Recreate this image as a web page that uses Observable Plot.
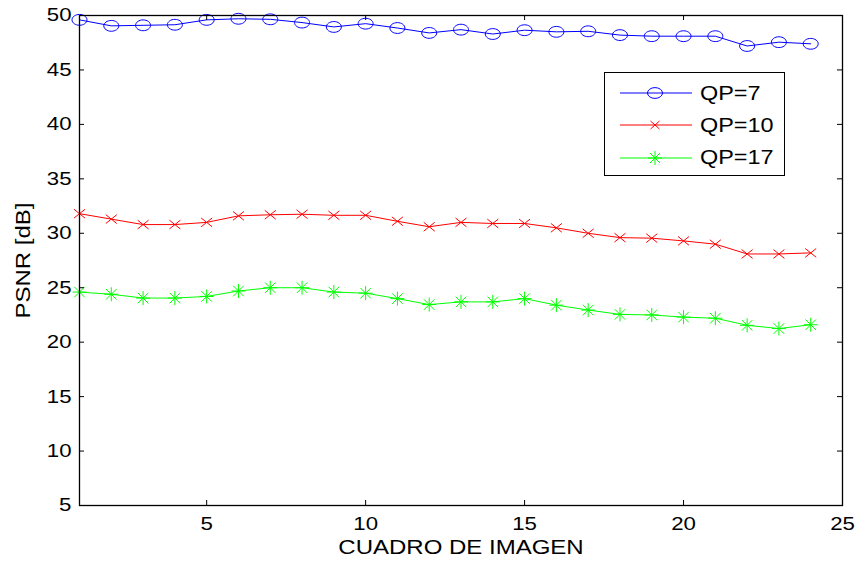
<!DOCTYPE html>
<html>
<head>
<meta charset="utf-8">
<script src="https://cdn.jsdelivr.net/npm/d3@7"></script>
<script src="https://cdn.jsdelivr.net/npm/@observablehq/plot@0.6"></script>
<style>
  html, body { margin: 0; padding: 0; background: #fff; }
  #wrap { position: relative; width: 857px; height: 561px; font-family: "Liberation Sans", Arial, sans-serif; }
  #legend { position: absolute; left: 604px; top: 72px; width: 179px; height: 102px; border: 1px solid #000; background: #fff; }
  .row { position: absolute; left: 0; height: 24px; display: flex; align-items: center; }
  .row span { font-size: 19.5px; color: #000; margin-left: 8px; display: inline-block; transform: scaleX(1.2); transform-origin: left center; }
</style>
</head>
<body>
<div id="wrap">
  <div id="chart"></div>
  <div id="legend"></div>
</div>
<script>
const frames = d3.range(1, 25);
const qp7  = [49.6, 49.05, 49.1, 49.15, 49.6, 49.7, 49.65, 49.35, 48.95, 49.25, 48.85, 48.4, 48.7, 48.3, 48.65, 48.5, 48.55, 48.2, 48.1, 48.1, 48.1, 47.2, 47.55, 47.4];
const qp10 = [31.8, 31.3, 30.8, 30.8, 31.0, 31.6, 31.7, 31.75, 31.65, 31.65, 31.1, 30.6, 31.0, 30.9, 30.9, 30.5, 30.0, 29.6, 29.55, 29.3, 29.0, 28.1, 28.1, 28.2];
const qp17 = [24.6, 24.4, 24.05, 24.05, 24.2, 24.7, 25.0, 25.0, 24.6, 24.5, 24.0, 23.45, 23.7, 23.7, 24.0, 23.4, 22.95, 22.55, 22.5, 22.3, 22.2, 21.55, 21.25, 21.6];
const seriesNames = ["QP=7", "QP=10", "QP=17"];
const seriesColors = ["#0000ff", "#ff0000", "#00ff00"];
const xTicks = [5, 10, 15, 20, 25];
const yTicks = [5, 10, 15, 20, 25, 30, 35, 40, 45, 50];

// MATLAB-like marker symbols
const ellipseSym = { draw(ctx, size) {
  const r = Math.sqrt(size / Math.PI), rx = r * 1.25, ry = r * 0.9, k = 0.5523;
  ctx.moveTo(rx, 0);
  ctx.bezierCurveTo(rx, ry * k, rx * k, ry, 0, ry);
  ctx.bezierCurveTo(-rx * k, ry, -rx, ry * k, -rx, 0);
  ctx.bezierCurveTo(-rx, -ry * k, -rx * k, -ry, 0, -ry);
  ctx.bezierCurveTo(rx * k, -ry, rx, -ry * k, rx, 0);
  ctx.closePath();
}};
const timesSym = { draw(ctx, size) {
  const r = Math.sqrt(size / Math.PI), w = r, h = r * 0.8;
  ctx.moveTo(-w, -h); ctx.lineTo(w, h);
  ctx.moveTo(-w, h); ctx.lineTo(w, -h);
}};
const starSym = { draw(ctx, size) {
  const r = Math.sqrt(size / Math.PI), w = r * 0.75, h = r * 0.75;
  ctx.moveTo(-r, 0); ctx.lineTo(r, 0);
  ctx.moveTo(0, -r); ctx.lineTo(0, r);
  ctx.moveTo(-w, -h); ctx.lineTo(w, h);
  ctx.moveTo(-w, h); ctx.lineTo(w, -h);
}};
const symbols = [ellipseSym, timesSym, starSym];
const radii = [6, 5.5, 7];

const data = [];
[qp7, qp10, qp17].forEach((vals, s) => vals.forEach((v, i) => data.push({frame: frames[i], psnr: v, series: seriesNames[s]})));

const marks = [];
seriesNames.forEach((name, s) => {
  const d = data.filter(e => e.series === name);
  marks.push(Plot.line(d, {x: "frame", y: "psnr", stroke: seriesColors[s], strokeWidth: 1}));
  marks.push(Plot.dot(d, {x: "frame", y: "psnr", stroke: seriesColors[s], fill: "none", strokeWidth: 1, r: radii[s], symbol: () => symbols[s]}));
});

const W = 857, H = 561, mL = 79, mR = 15, mT = 15, mB = 56;
const fw = W - mL - mR, fh = H - mT - mB, tl = 5;

const chart = Plot.plot({
  width: W, height: H,
  marginLeft: mL, marginRight: mR, marginTop: mT, marginBottom: mB,
  style: { fontFamily: "'Liberation Sans', Arial, sans-serif", fontSize: "18.5px", color: "#000", background: "#fff", overflow: "visible" },
  x: { domain: [1, 25] },
  y: { domain: [5, 50] },
  marks: [
    ...marks,
    Plot.ruleX(xTicks, {x: d => d, insetTop: fh - tl, stroke: "#000"}),
    Plot.ruleX(xTicks, {x: d => d, insetBottom: fh - tl, stroke: "#000"}),
    Plot.ruleY(yTicks, {y: d => d, insetRight: fw - tl, stroke: "#000"}),
    Plot.ruleY(yTicks, {y: d => d, insetLeft: fw - tl, stroke: "#000"}),
    Plot.frame({stroke: "#000", strokeWidth: 1.3}),
    Plot.axisX(xTicks, {tickSize: 0, tickPadding: 11, label: null, fontSize: 18.5}),
    Plot.axisY(yTicks, {tickSize: 0, tickPadding: 8, label: null, fontSize: 18.5}),
    Plot.text(["CUADRO DE IMAGEN"], {frameAnchor: "bottom", lineAnchor: "middle", textAnchor: "middle", dy: 42.5, fontSize: 20, fill: "#000"}),
    Plot.text(["PSNR [dB]"], {frameAnchor: "left", lineAnchor: "middle", textAnchor: "middle", dx: -56, rotate: -90, fontSize: 20, fill: "#000"})
  ]
});
document.getElementById("chart").appendChild(chart);

// Horizontal stretch of text, as in the reference rendering
chart.querySelectorAll("text").forEach(t => {
  if (t.querySelector("tspan")) return;
  const L = t.getComputedTextLength();
  if (L > 0) {
    t.setAttribute("textLength", (L * 1.2).toFixed(1));
    t.setAttribute("lengthAdjust", "spacingAndGlyphs");
  }
});

// Legend
const legend = document.getElementById("legend");
const markerSvg = [
  `<ellipse cx="35" cy="12" rx="7.5" ry="5.4" fill="none" stroke="#0000ff"/>`,
  `<path d="M30.5,8 L39.5,16 M30.5,16 L39.5,8" stroke="#ff0000"/>`,
  `<path d="M28,12 L42,12 M35,5 L35,19 M30,7 L40,17 M30,17 L40,7" stroke="#00ff00"/>`
];
seriesNames.forEach((name, s) => {
  const row = document.createElement("div");
  row.className = "row";
  row.style.top = (8 + s * 32.3) + "px";
  row.style.left = "15px";
  row.innerHTML = `<svg width="72" height="24"><line x1="0" y1="12" x2="72" y2="12" stroke="${seriesColors[s]}"/>${markerSvg[s]}</svg><span>${name}</span>`;
  legend.appendChild(row);
});
</script>
</body>
</html>
